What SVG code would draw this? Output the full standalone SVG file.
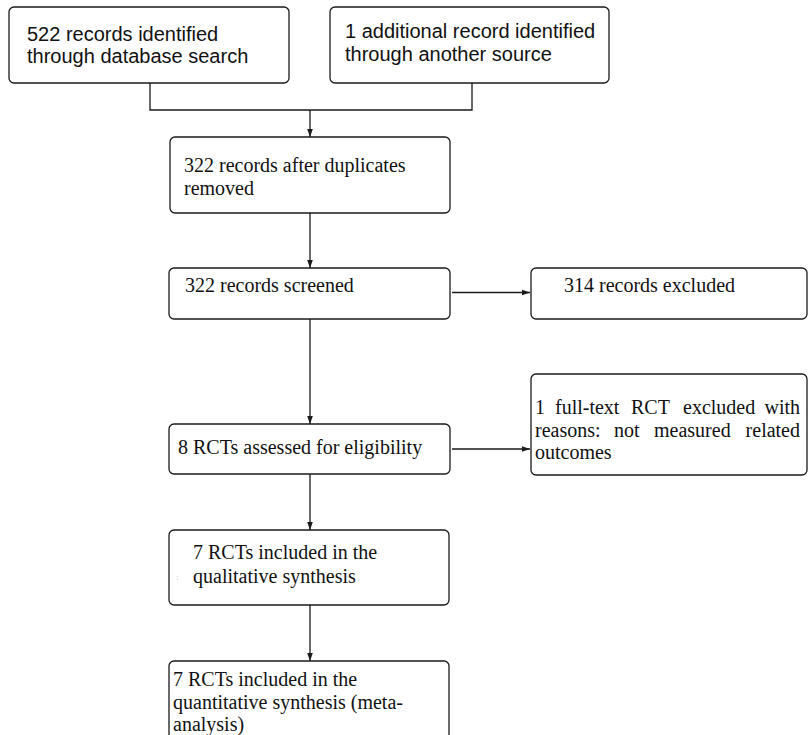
<svg xmlns="http://www.w3.org/2000/svg" width="808" height="735" viewBox="0 0 808 735">
<style>
  .box { fill: #ffffff; stroke: #1a1a1a; stroke-width: 1.3; }
  .sans { font-family: "Liberation Sans", Arial, sans-serif; font-size: 20px; fill: #111; }
  .serif { font-family: "Liberation Serif", "Times New Roman", serif; font-size: 20px; fill: #111; }
  .conn { fill: none; stroke: #1a1a1a; stroke-width: 1.3; }
</style>
<defs>
  <marker id="arr" markerUnits="userSpaceOnUse" markerWidth="9" markerHeight="7" refX="8.5" refY="3.5" orient="auto">
    <path d="M0,0.5 L8.5,3.5 L0,6.5 z" fill="#1a1a1a"/>
  </marker>
</defs>
<rect width="808" height="735" fill="#ffffff"/>

<g id="connectors">
  <path class="conn" d="M150 83 V110 H472 V83"/>
  <path class="conn" d="M310 110 V137" marker-end="url(#arr)"/>
  <path class="conn" d="M310 213 V268" marker-end="url(#arr)"/>
  <path class="conn" d="M452 292.5 H530" marker-end="url(#arr)"/>
  <path class="conn" d="M310 319 V424" marker-end="url(#arr)"/>
  <path class="conn" d="M452 449 H530" marker-end="url(#arr)"/>
  <path class="conn" d="M310 474 V530" marker-end="url(#arr)"/>
  <path class="conn" d="M310 605 V661" marker-end="url(#arr)"/>
</g>

<g id="node-db-search">
  <rect class="box" x="9" y="7" width="280" height="76" rx="5"/>
  <text class="sans" x="27" y="41">522 records identified</text>
  <text class="sans" x="27" y="63">through database search</text>
</g>

<g id="node-other-source">
  <rect class="box" x="330" y="7" width="279" height="76" rx="5"/>
  <text class="sans" x="345" y="38">1 additional record identified</text>
  <text class="sans" x="345" y="61">through another source</text>
</g>

<g id="node-duplicates">
  <rect class="box" x="170" y="137" width="280" height="76" rx="5"/>
  <text class="serif" x="184" y="172">322 records after duplicates</text>
  <text class="serif" x="184" y="195">removed</text>
</g>

<g id="node-screened">
  <rect class="box" x="169" y="268" width="281" height="51" rx="5"/>
  <text class="serif" x="185" y="292">322 records screened</text>
</g>

<g id="node-excluded">
  <rect class="box" x="531" y="268" width="276" height="51" rx="5"/>
  <text class="serif" x="564" y="292">314 records excluded</text>
</g>

<g id="node-eligibility">
  <rect class="box" x="169" y="424" width="281" height="50" rx="5"/>
  <text class="serif" x="178" y="454">8 RCTs assessed for eligibility</text>
</g>

<g id="node-fulltext-excluded">
  <rect class="box" x="531" y="374" width="276" height="101" rx="5"/>
  <text class="serif" y="414"><tspan x="535">1</tspan><tspan x="555">full-text</tspan><tspan x="631">RCT</tspan><tspan x="683">excluded</tspan><tspan x="764.5">with</tspan></text>
  <text class="serif" y="437"><tspan x="535">reasons:</tspan><tspan x="614">not</tspan><tspan x="654">measured</tspan><tspan x="745.6">related</tspan></text>
  <text class="serif" x="535" y="459">outcomes</text>
</g>

<g id="node-qualitative">
  <rect class="box" x="169" y="530" width="280" height="75" rx="5"/>
  <text class="serif" x="193" y="559">7 RCTs included in the</text>
  <text class="serif" x="193" y="583">qualitative synthesis</text>
  <text x="176" y="580" font-family="Liberation Serif, serif" font-size="9" fill="#bbbbbb">:</text>
</g>

<g id="node-quantitative">
  <rect class="box" x="169" y="661" width="280" height="82" rx="5"/>
  <text class="serif" x="173" y="686">7 RCTs included in the</text>
  <text class="serif" x="173" y="709">quantitative synthesis (meta-</text>
  <text class="serif" x="173" y="731">analysis)</text>
</g>
</svg>
